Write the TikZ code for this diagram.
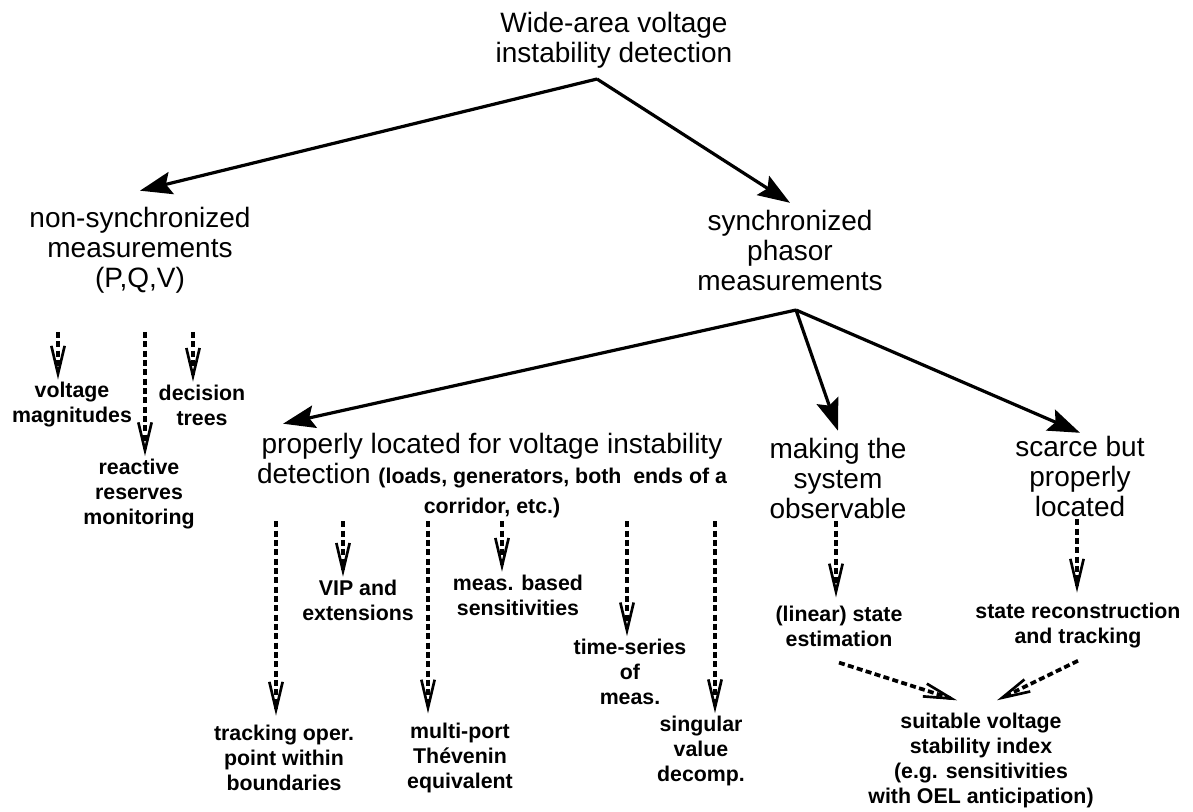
\documentclass[tikz,border=0pt]{standalone}
\usepackage{fontspec}
\setmainfont{Liberation Sans}
\usepackage{tikz}
\usetikzlibrary{arrows.meta, positioning, calc}

\tikzset{
  branch/.style={align=center, font=\fontsize{21}{22.5}\selectfont, inner sep=2pt},
  leafnode/.style={align=center, font=\fontsize{16}{18.75}\selectfont\bfseries, inner sep=2pt},
  solidarrow/.style={line width=2.4pt, -{Stealth[length=24pt,width=17pt,inset=4pt]}},
  dasharrow/.style={line width=2.8pt, dash pattern=on 4.5pt off 2.5pt, -{Straight Barb[length=21pt,width=10pt,line width=2pt]}}
}
\newcommand{\smallbold}{\fontsize{16}{18.75}\selectfont\bfseries}

\begin{document}
\begin{tikzpicture}[x=0.75pt, y=-0.75pt]
\useasboundingbox (0,0) rectangle (1193,811);
\fill[white] (0,0) rectangle (1193,811);

% top of the tree
\node[branch] (root) at (614,40) {Wide-area voltage\\instability detection};
\coordinate (rootfork) at (597,79);

\node[branch] (nonsync) at (140,250) {non-synchronized\\measurements\\(P,Q,V)};
\node[branch] (sync) at (790,250) {synchronized\\phasor\\measurements};
\coordinate (syncfork) at (796,310);

\draw[solidarrow] (rootfork) -- ([yshift=10pt]nonsync.north);
\draw[solidarrow] (rootfork) -- ([yshift=3pt]sync.north);

% synchronized branches
\node[branch] (proper) at (492,476) {properly located for voltage instability\\detection {\smallbold (loads, generators, both\ \ ends of a}\\{\smallbold corridor, etc.)}};
\node[branch] (making) at (838,478) {making the\\system\\observable};
\node[branch] (scarce) at (1080,476) {scarce but\\properly\\located};

\draw[solidarrow] (syncfork) -- ($(proper.north west)+(29,-7)$);
\draw[solidarrow] (syncfork) -- ([yshift=3pt]making.north);
\draw[solidarrow] (syncfork) -- (scarce.north);

% non-synchronized leaves
\node[leafnode] (volt) at (72,405) {voltage\\magnitudes};
\node[leafnode] (react) at (139,494) {reactive\\reserves\\monitoring};
\node[leafnode] (decis) at (202,405) {decision\\trees};

\coordinate (nsfoot) at ([yshift=-27pt]nonsync.south);
\draw[dasharrow] (nsfoot -| 58,0) -- (volt.north -| 58,0);
\draw[dasharrow] (nsfoot -| 145,0) -- (react.north -| 145,0);
\draw[dasharrow] (nsfoot -| 193,0) -- (decis.north -| 193,0);

% leaves of the properly located branch
\node[leafnode] (track) at (284,758) {tracking oper.\\point within\\boundaries};
\node[leafnode] (vip) at (358,600) {VIP and\\extensions};
\node[leafnode] (multi) at (460,758) {multi-port\\Thévenin\\equivalent};
\node[leafnode] (measb) at (518,595) {meas. based\\sensitivities};
\node[leafnode] (tser) at (630,672) {time-series\\of\\meas.};
\node[leafnode] (svd) at (701,751) {singular\\value\\decomp.};

\draw[dasharrow] (proper.south -| 276,0) -- ([yshift=5pt]track.north -| 276,0);
\draw[dasharrow] (proper.south -| 343,0) -- (vip.north -| 343,0);
\draw[dasharrow] (proper.south -| 428,0) -- ([yshift=5pt]multi.north -| 428,0);
\draw[dasharrow] (proper.south -| 502,0) -- (measb.north -| 502,0);
\draw[dasharrow] (proper.south -| 627,0) -- (tser.north -| 627,0);
\draw[dasharrow] (proper.south -| 715,0) -- (svd.north -| 715,0);

% observable / scarce leaves
\node[leafnode] (linear) at (839,626) {(linear) state\\estimation};
\node[leafnode] (recon) at (1078,626) {state reconstruction\\and tracking};
\node[leafnode] (suit) at (981,760) {suitable voltage\\stability index\\(e.g. sensitivities\\with OEL anticipation)};

\draw[dasharrow] (making.south -| 836,0) -- ([yshift=4pt]linear.north -| 836,0);
\draw[dasharrow] (scarce.south -| 1077,0) -- ([yshift=6pt]recon.north -| 1077,0);
\draw[dasharrow] ([yshift=-10pt]linear.south) -- ([xshift=-18pt,yshift=7pt]suit.north);
\draw[dasharrow] ([yshift=-7pt]recon.south) -- ([xshift=12pt,yshift=7pt]suit.north);

\end{tikzpicture}
\end{document}
